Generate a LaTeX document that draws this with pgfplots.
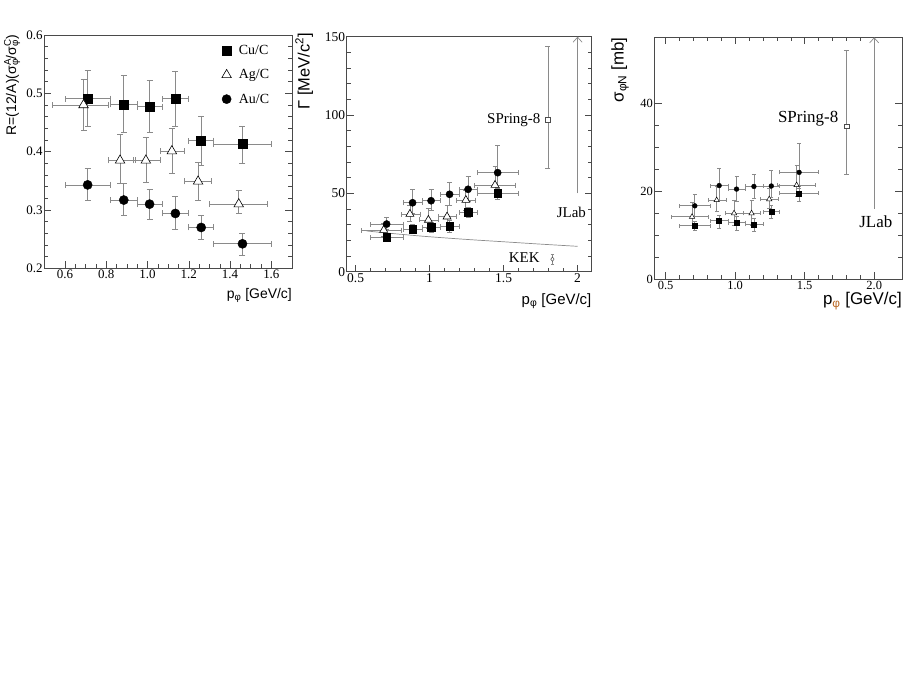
\documentclass[border=0pt]{standalone}
\usepackage{fontspec}
\setmainfont{Liberation Serif}
\setsansfont{Liberation Sans}
\usepackage{pgfplots}
\pgfplotsset{compat=1.18}
\usetikzlibrary{arrows.meta}

\definecolor{eb}{HTML}{8A8A8A}
\definecolor{fr}{HTML}{4A4A4A}
\definecolor{phio}{HTML}{B8641E}

\pgfplotsset{
  rootax/.style={
    scale only axis,
    axis line style={draw=fr, line width=0.6bp},
    tick style={draw=fr, line width=0.5bp},
    tick align=inside,
    major tick length=7bp,
    minor tick length=4bp,
    ytick pos=both,
    xtick pos=left,
    /pgf/number format/assume math mode=true,
    clip=false,
    xlabel style={at={(axis description cs:1,0)}, anchor=north east, inner sep=0pt},
    ylabel style={anchor=east, inner sep=0pt},
    xticklabel style={inner sep=1.5bp},
    yticklabel style={inner sep=1.5bp},
  },
  ebar/.style={
    error bars/.cd, x dir=both, x explicit, y dir=both, y explicit,
    error bar style={draw=eb, line width=0.7bp},
    error mark options={rotate=90, draw=eb, line width=0.7bp, mark size=#1},
  },
  ebar/.default=2.5bp,
}

\begin{document}
\begin{tikzpicture}
\path[use as bounding box] (0,0) rectangle (910bp,683bp);

% ---------------- Panel 1 ----------------
\begin{axis}[rootax,
  at={(44.3bp,414.7bp)}, anchor=south west,
  width=247.7bp, height=233.3bp,
  xmin=0.5, xmax=1.7, ymin=0.2, ymax=0.6,
  xtick={0.6,0.8,1.0,1.2,1.4,1.6}, minor x tick num=3,
  ytick={0.2,0.3,0.4,0.5,0.6}, minor y tick num=4,
  xticklabel style={/pgf/number format/fixed, /pgf/number format/fixed zerofill, /pgf/number format/precision=1},
  yticklabel style={/pgf/number format/fixed, /pgf/number format/fixed zerofill, /pgf/number format/precision=1},
  tick label style={font=\fontsize{13}{15}\selectfont},
  label style={font=\sffamily\fontsize{14}{16}\selectfont},
  xlabel={p\textsubscript{φ} [GeV/c]},
  xlabel style={yshift=-20bp},
  ylabel={R=(12/A)(σ\makebox[0pt][l]{\textsuperscript{A}}\textsubscript{φ}/σ\makebox[0pt][l]{\textsuperscript{C}}\textsubscript{φ})},
  ylabel style={at={(axis description cs:-0.130,1)}},
  legend style={at={(axis description cs:0.716,0.965)}, anchor=north west, draw=none, fill=none,
    font=\fontsize{14}{16}\selectfont, row sep=9.5bp, inner sep=0pt,
    /tikz/every odd column/.append style={column sep=5.5bp}},
  legend cell align=left,
  legend image code/.code={\draw[#1] plot coordinates {(0bp,0bp)};},
]
\addplot[only marks, mark=square*, mark size=4.5bp, black, ebar=3bp] coordinates {
 (0.71,0.491) += (0.11,0.048) -= (0.11,0.048)
 (0.885,0.481) += (0.065,0.049) -= (0.065,0.048)
 (1.01,0.477) += (0.06,0.045) -= (0.06,0.044)
 (1.135,0.491) += (0.065,0.047) -= (0.065,0.048)
 (1.26,0.419) += (0.06,0.042) -= (0.06,0.042)
 (1.46,0.413) += (0.14,0.031) -= (0.14,0.033)
};
\addlegendentry{Cu/C}
\addplot[only marks, mark=triangle*, mark size=5.5bp, mark options={fill=white, draw=black, line width=0.6bp}, ebar=3bp] coordinates {
 (0.69,0.480) += (0.12,0.044) -= (0.15,0.043)
 (0.867,0.385) += (0.073,0.045) -= (0.057,0.040)
 (0.992,0.385) += (0.068,0.039) -= (0.062,0.038)
 (1.118,0.401) += (0.062,0.039) -= (0.058,0.038)
 (1.245,0.349) += (0.065,0.032) -= (0.065,0.032)
 (1.442,0.310) += (0.138,0.024) -= (0.142,0.016)
};
\addlegendentry{Ag/C}
\addplot[only marks, mark=*, mark size=4.6bp, black, ebar=3bp] coordinates {
 (0.71,0.343) += (0.11,0.028) -= (0.11,0.026)
 (0.885,0.317) += (0.065,0.029) -= (0.065,0.027)
 (1.01,0.310) += (0.06,0.025) -= (0.06,0.026)
 (1.135,0.294) += (0.065,0.029) -= (0.065,0.028)
 (1.26,0.270) += (0.06,0.021) -= (0.06,0.021)
 (1.46,0.242) += (0.14,0.018) -= (0.14,0.019)
};
\addlegendentry{Au/C}
\end{axis}

% ---------------- Panel 2 ----------------
\begin{axis}[rootax,
  at={(346.7bp,411.3bp)}, anchor=south west,
  width=244.8bp, height=235bp,
  xmin=0.44, xmax=2.094, ymin=0, ymax=150,
  xtick={0.5,1,1.5,2}, minor x tick num=4,
  ytick={0,50,100,150}, minor y tick num=4,
  tick label style={font=\fontsize{13.5}{15}\selectfont},
  label style={font=\sffamily\fontsize{15}{17}\selectfont},
  xlabel={p\textsubscript{φ} [GeV/c]},
  xlabel style={yshift=-22bp},
  ylabel={Γ [MeV/c\textsuperscript{2}]},
  ylabel style={at={(axis description cs:-0.174,1.016)}, font=\sffamily\fontsize{16.5}{18}\selectfont},
]
\addplot[color=black!45, line width=0.7bp, smooth] coordinates {
 (0.575,26.0) (0.7,24.8) (0.85,23.5) (1.0,22.3) (1.25,20.6) (1.5,19.1) (1.75,17.6) (2.0,16.2)
};
\addplot[only marks, mark=triangle*, mark size=4.6bp, mark options={fill=white, draw=black, line width=0.6bp}, ebar=2.5bp] coordinates {
 (0.69,26.6) += (0.12,4.0) -= (0.15,4.0)
 (0.867,36.8) += (0.073,5.8) -= (0.057,4.9)
 (0.992,33.0) += (0.068,7.4) -= (0.062,5.3)
 (1.118,35.1) += (0.062,7.5) -= (0.058,6.4)
 (1.245,45.7) += (0.065,6.4) -= (0.065,6.3)
 (1.442,55.3) += (0.138,11.7) -= (0.142,5.3)
};
\addplot[only marks, mark=square*, mark size=3.7bp, black, ebar=2.5bp] coordinates {
 (0.71,21.9) += (0.11,2.7) -= (0.11,2.7)
 (0.885,27.2) += (0.065,3.0) -= (0.065,3.0)
 (1.01,28.3) += (0.06,3.5) -= (0.06,3.5)
 (1.135,29.1) += (0.065,3.7) -= (0.065,3.7)
 (1.26,37.9) += (0.06,3.4) -= (0.06,3.4)
 (1.46,50.0) += (0.14,3.8) -= (0.14,3.8)
};
\addplot[only marks, mark=*, mark size=3.6bp, black, ebar=2.5bp] coordinates {
 (0.71,30.4) += (0.11,4.1) -= (0.11,3.2)
 (0.885,44.0) += (0.065,8.6) -= (0.065,6.8)
 (1.01,45.3) += (0.06,7.3) -= (0.06,5.9)
 (1.135,49.4) += (0.065,7.4) -= (0.065,6.8)
 (1.26,52.6) += (0.06,8.0) -= (0.06,7.9)
 (1.46,63.2) += (0.14,17.7) -= (0.14,10.0)
};
% SPring-8
\addplot[only marks, mark=square*, mark size=2.3bp, mark options={fill=white, draw=black!70, line width=0.5bp}, ebar=2.5bp] coordinates {
 (1.8,97) += (0,47) -= (0,31)
};
% KEK
\addplot[only marks, mark=diamond*, mark size=2.2bp, mark options={fill=white, draw=black!70, line width=0.5bp}, ebar=1.8bp] coordinates {
 (1.83,8.0) += (0,2.8) -= (0,3.2)
};
% JLab
\addplot[draw=eb, line width=0.7bp, -{Straight Barb[length=5bp,width=9bp]}] coordinates {(2,50) (2,150)};
\node[anchor=east, inner sep=0pt, font=\fontsize{15}{17}\selectfont] at (axis cs:1.75,97) {SPring-8};
\node[inner sep=0pt, font=\fontsize{15}{17}\selectfont] at (axis cs:1.958,37.7) {JLab};
\node[inner sep=0pt, font=\fontsize{15}{17}\selectfont] at (axis cs:1.64,9.2) {KEK};
\end{axis}

% ---------------- Panel 3 ----------------
\begin{axis}[rootax,
  at={(654.5bp,403.7bp)}, anchor=south west,
  width=247.5bp, height=242bp,
  xmin=0.42, xmax=2.2, ymin=0, ymax=55,
  xtick pos=both,
  xtick={0.5,1,1.5,2}, minor x tick num=4,
  ytick={0,20,40}, minor y tick num=3,
  xticklabel style={/pgf/number format/fixed, /pgf/number format/fixed zerofill, /pgf/number format/precision=1},
  tick label style={font=\fontsize{12.5}{14}\selectfont},
  label style={font=\sffamily\fontsize{17}{19}\selectfont},
  xlabel={p\textsubscript{\textcolor{phio}{φ}} [GeV/c]},
  xlabel style={yshift=-13bp},
  ylabel={σ\textsubscript{φN} [mb]},
  ylabel style={at={(axis description cs:-0.139,1)}},
]
\addplot[only marks, mark=triangle*, mark size=3.1bp, mark options={fill=white, draw=black, line width=0.5bp}, ebar=2bp] coordinates {
 (0.69,14.2) += (0.12,3.2) -= (0.15,2.0)
 (0.867,18.0) += (0.073,3.1) -= (0.057,2.6)
 (0.992,15.0) += (0.068,3.0) -= (0.062,2.7)
 (1.118,15.0) += (0.062,3.0) -= (0.058,2.7)
 (1.245,18.2) += (0.065,2.5) -= (0.065,2.1)
 (1.442,21.4) += (0.138,4.6) -= (0.142,2.6)
};
\addplot[only marks, mark=square*, mark size=2.5bp, black, ebar=2bp] coordinates {
 (0.71,12.2) += (0.11,1.0) -= (0.11,1.1)
 (0.885,13.3) += (0.065,1.3) -= (0.065,1.7)
 (1.01,12.9) += (0.06,1.3) -= (0.06,1.7)
 (1.135,12.5) += (0.065,1.4) -= (0.065,1.5)
 (1.26,15.4) += (0.06,1.5) -= (0.06,1.5)
 (1.46,19.5) += (0.14,1.6) -= (0.14,1.8)
};
\addplot[only marks, mark=*, mark size=2.4bp, black, ebar=2bp] coordinates {
 (0.71,16.7) += (0.11,2.7) -= (0.11,2.3)
 (0.885,21.3) += (0.065,3.9) -= (0.065,3.3)
 (1.01,20.5) += (0.06,2.8) -= (0.06,2.8)
 (1.135,21.1) += (0.065,2.8) -= (0.065,2.7)
 (1.26,21.2) += (0.06,3.5) -= (0.06,2.6)
 (1.46,24.3) += (0.14,6.6) -= (0.14,3.6)
};
\addplot[only marks, mark=square*, mark size=2.4bp, mark options={fill=white, draw=black!70, line width=0.5bp}, ebar=2.5bp] coordinates {
 (1.8,34.8) += (0,17.2) -= (0,10.9)
};
\addplot[draw=eb, line width=0.7bp, -{Straight Barb[length=5bp,width=9bp]}] coordinates {(2,16) (2,55)};
\node[anchor=east, inner sep=0pt, font=\fontsize{17}{19}\selectfont] at (axis cs:1.743,36.6) {SPring-8};
\node[inner sep=0pt, font=\fontsize{17}{19}\selectfont] at (axis cs:2.012,13.1) {JLab};
\end{axis}
\end{tikzpicture}
\end{document}
